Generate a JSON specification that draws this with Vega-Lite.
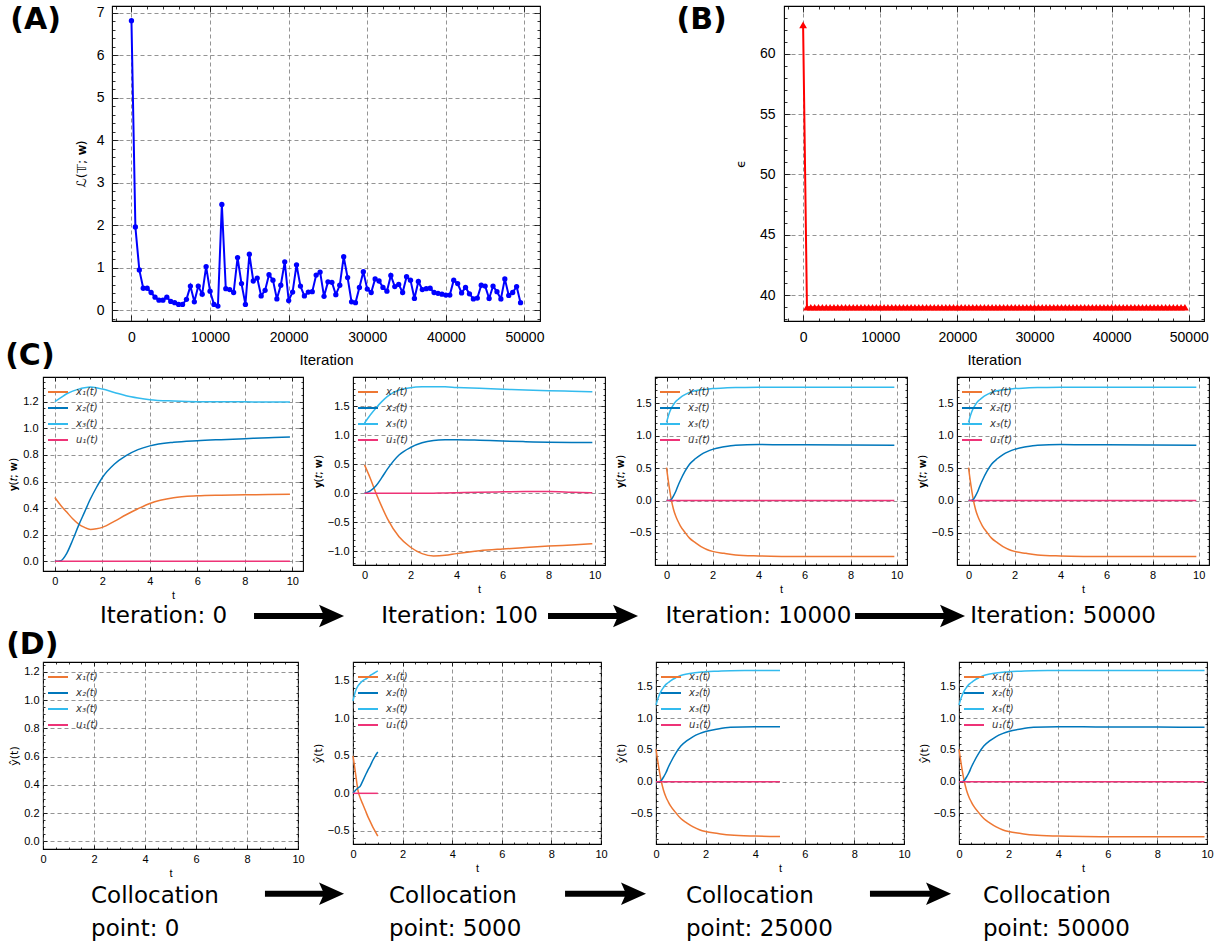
{
"$schema": "https://vega.github.io/schema/vega-lite/v6.json",
"padding": {"left": 5, "top": 4, "right": 0, "bottom": 0},
"spacing": -28,
"config": {
  "view": {"stroke": "#000", "strokeWidth": 1.1},
  "axis": {"domain": false, "tickColor": "#000", "tickWidth": 0.8, "labelFont": "Liberation Sans", "labelColor": "#000", "titleFont": "Liberation Sans", "titleColor": "#000", "titleFontWeight": "normal", "labelFlush": false, "labelOverlap": false, "gridColor": "#666", "gridDash": [4, 3], "gridWidth": 0.7},
  "legend": {"orient": "top-left", "offset": 3, "padding": 1, "rowPadding": -6, "symbolType": "stroke", "symbolSize": 400, "symbolStrokeWidth": 2, "labelFont": "DejaVu Sans", "labelFontStyle": "italic", "labelFontSize": 10, "labelColor": "#333", "labelOffset": 7},
  "title": {"font": "DejaVu Sans", "fontWeight": "bold", "fontSize": 30, "anchor": "start", "frame": "bounds", "color": "#000", "offset": 0, "baseline": "bottom"}
},
"resolve": {"legend": {"color": "independent"}},
"datasets": {
  "A": [
{"it":0,"loss":6.81},{"it":500,"loss":1.96},{"it":1000,"loss":0.95},{"it":1500,"loss":0.52},{"it":2000,"loss":0.52},{"it":2500,"loss":0.42},{"it":3000,"loss":0.31},{"it":3500,"loss":0.24},{"it":4000,"loss":0.24},{"it":4500,"loss":0.31},
{"it":5000,"loss":0.21},{"it":5500,"loss":0.18},{"it":6000,"loss":0.14},{"it":6500,"loss":0.14},{"it":7000,"loss":0.26},{"it":7500,"loss":0.57},{"it":8000,"loss":0.2},{"it":8500,"loss":0.57},{"it":9000,"loss":0.38},{"it":9500,"loss":1.03},
{"it":10000,"loss":0.45},{"it":10500,"loss":0.14},{"it":11000,"loss":0.1},{"it":11500,"loss":2.49},{"it":12000,"loss":0.51},{"it":12500,"loss":0.49},{"it":13000,"loss":0.42},{"it":13500,"loss":1.24},{"it":14000,"loss":0.63},{"it":14500,"loss":0.14},
{"it":15000,"loss":1.32},{"it":15500,"loss":0.69},{"it":16000,"loss":0.76},{"it":16500,"loss":0.34},{"it":17000,"loss":0.47},{"it":17500,"loss":0.84},{"it":18000,"loss":0.71},{"it":18500,"loss":0.27},{"it":19000,"loss":0.59},{"it":19500,"loss":1.14},
{"it":20000,"loss":0.23},{"it":20500,"loss":0.43},{"it":21000,"loss":1.07},{"it":21500,"loss":0.57},{"it":22000,"loss":0.34},{"it":22500,"loss":0.43},{"it":23000,"loss":0.44},{"it":23500,"loss":0.83},{"it":24000,"loss":0.9},{"it":24500,"loss":0.33},
{"it":25000,"loss":0.67},{"it":25500,"loss":0.66},{"it":26000,"loss":0.37},{"it":26500,"loss":0.59},{"it":27000,"loss":1.26},{"it":27500,"loss":0.77},{"it":28000,"loss":0.2},{"it":28500,"loss":0.18},{"it":29000,"loss":0.54},{"it":29500,"loss":0.91},
{"it":30000,"loss":0.5},{"it":30500,"loss":0.42},{"it":31000,"loss":0.74},{"it":31500,"loss":0.69},{"it":32000,"loss":0.54},{"it":32500,"loss":0.45},{"it":33000,"loss":0.82},{"it":33500,"loss":0.56},{"it":34000,"loss":0.61},{"it":34500,"loss":0.42},
{"it":35000,"loss":0.79},{"it":35500,"loss":0.71},{"it":36000,"loss":0.28},{"it":36500,"loss":0.68},{"it":37000,"loss":0.49},{"it":37500,"loss":0.51},{"it":38000,"loss":0.52},{"it":38500,"loss":0.42},{"it":39000,"loss":0.4},{"it":39500,"loss":0.38},
{"it":40000,"loss":0.36},{"it":40500,"loss":0.36},{"it":41000,"loss":0.71},{"it":41500,"loss":0.63},{"it":42000,"loss":0.41},{"it":42500,"loss":0.54},{"it":43000,"loss":0.39},{"it":43500,"loss":0.27},{"it":44000,"loss":0.29},{"it":44500,"loss":0.59},
{"it":45000,"loss":0.57},{"it":45500,"loss":0.28},{"it":46000,"loss":0.57},{"it":46500,"loss":0.44},{"it":47000,"loss":0.27},{"it":47500,"loss":0.74},{"it":48000,"loss":0.35},{"it":48500,"loss":0.42},{"it":49000,"loss":0.56},{"it":49500,"loss":0.18}
  ],
  "B": [
{"it":0,"eps":62.4},{"it":500,"eps":39},{"it":1000,"eps":39},{"it":1500,"eps":39},{"it":2000,"eps":39},{"it":2500,"eps":39},{"it":3000,"eps":39},{"it":3500,"eps":39},{"it":4000,"eps":39},{"it":4500,"eps":39},
{"it":5000,"eps":39},{"it":5500,"eps":39},{"it":6000,"eps":39},{"it":6500,"eps":39},{"it":7000,"eps":39},{"it":7500,"eps":39},{"it":8000,"eps":39},{"it":8500,"eps":39},{"it":9000,"eps":39},{"it":9500,"eps":39},
{"it":10000,"eps":39},{"it":10500,"eps":39},{"it":11000,"eps":39},{"it":11500,"eps":39},{"it":12000,"eps":39},{"it":12500,"eps":39},{"it":13000,"eps":39},{"it":13500,"eps":39},{"it":14000,"eps":39},{"it":14500,"eps":39},
{"it":15000,"eps":39},{"it":15500,"eps":39},{"it":16000,"eps":39},{"it":16500,"eps":39},{"it":17000,"eps":39},{"it":17500,"eps":39},{"it":18000,"eps":39},{"it":18500,"eps":39},{"it":19000,"eps":39},{"it":19500,"eps":39},
{"it":20000,"eps":39},{"it":20500,"eps":39},{"it":21000,"eps":39},{"it":21500,"eps":39},{"it":22000,"eps":39},{"it":22500,"eps":39},{"it":23000,"eps":39},{"it":23500,"eps":39},{"it":24000,"eps":39},{"it":24500,"eps":39},
{"it":25000,"eps":39},{"it":25500,"eps":39},{"it":26000,"eps":39},{"it":26500,"eps":39},{"it":27000,"eps":39},{"it":27500,"eps":39},{"it":28000,"eps":39},{"it":28500,"eps":39},{"it":29000,"eps":39},{"it":29500,"eps":39},
{"it":30000,"eps":39},{"it":30500,"eps":39},{"it":31000,"eps":39},{"it":31500,"eps":39},{"it":32000,"eps":39},{"it":32500,"eps":39},{"it":33000,"eps":39},{"it":33500,"eps":39},{"it":34000,"eps":39},{"it":34500,"eps":39},
{"it":35000,"eps":39},{"it":35500,"eps":39},{"it":36000,"eps":39},{"it":36500,"eps":39},{"it":37000,"eps":39},{"it":37500,"eps":39},{"it":38000,"eps":39},{"it":38500,"eps":39},{"it":39000,"eps":39},{"it":39500,"eps":39},
{"it":40000,"eps":39},{"it":40500,"eps":39},{"it":41000,"eps":39},{"it":41500,"eps":39},{"it":42000,"eps":39},{"it":42500,"eps":39},{"it":43000,"eps":39},{"it":43500,"eps":39},{"it":44000,"eps":39},{"it":44500,"eps":39},
{"it":45000,"eps":39},{"it":45500,"eps":39},{"it":46000,"eps":39},{"it":46500,"eps":39},{"it":47000,"eps":39},{"it":47500,"eps":39},{"it":48000,"eps":39},{"it":48500,"eps":39},{"it":49000,"eps":39},{"it":49500,"eps":39}
  ],
  "C1": [
{"t":0,"x1":0.48,"x2":0,"x3":1.2,"u1":0},
{"t":0.25,"x1":0.42,"x2":0.005,"x3":1.23,"u1":0},
{"t":0.5,"x1":0.37,"x2":0.06,"x3":1.26,"u1":0},
{"t":0.75,"x1":0.32,"x2":0.16,"x3":1.28,"u1":0},
{"t":1,"x1":0.28,"x2":0.27,"x3":1.295,"u1":0},
{"t":1.25,"x1":0.255,"x2":0.37,"x3":1.305,"u1":0},
{"t":1.5,"x1":0.24,"x2":0.47,"x3":1.31,"u1":0},
{"t":1.75,"x1":0.245,"x2":0.555,"x3":1.305,"u1":0},
{"t":2,"x1":0.255,"x2":0.63,"x3":1.295,"u1":0},
{"t":2.5,"x1":0.3,"x2":0.73,"x3":1.27,"u1":0},
{"t":3,"x1":0.35,"x2":0.795,"x3":1.245,"u1":0},
{"t":3.5,"x1":0.395,"x2":0.84,"x3":1.228,"u1":0},
{"t":4,"x1":0.435,"x2":0.868,"x3":1.215,"u1":0},
{"t":5,"x1":0.478,"x2":0.895,"x3":1.205,"u1":0},
{"t":6,"x1":0.492,"x2":0.907,"x3":1.2,"u1":0},
{"t":7,"x1":0.497,"x2":0.915,"x3":1.2,"u1":0},
{"t":8,"x1":0.5,"x2":0.922,"x3":1.199,"u1":0},
{"t":9,"x1":0.502,"x2":0.929,"x3":1.198,"u1":0},
{"t":9.9,"x1":0.505,"x2":0.935,"x3":1.198,"u1":0}
  ],
  "C2": [
{"t":0,"x1":0.49,"x2":0,"x3":1.21,"u1":0},
{"t":0.25,"x1":0.26,"x2":0.04,"x3":1.35,"u1":0},
{"t":0.5,"x1":0.0,"x2":0.13,"x3":1.47,"u1":0},
{"t":0.75,"x1":-0.23,"x2":0.27,"x3":1.58,"u1":0},
{"t":1,"x1":-0.44,"x2":0.42,"x3":1.67,"u1":0},
{"t":1.5,"x1":-0.75,"x2":0.66,"x3":1.78,"u1":0},
{"t":2,"x1":-0.93,"x2":0.79,"x3":1.82,"u1":0},
{"t":2.5,"x1":-1.04,"x2":0.87,"x3":1.835,"u1":0},
{"t":3,"x1":-1.08,"x2":0.91,"x3":1.838,"u1":0.002},
{"t":3.5,"x1":-1.07,"x2":0.923,"x3":1.835,"u1":0.005},
{"t":4,"x1":-1.04,"x2":0.925,"x3":1.825,"u1":0.01},
{"t":5,"x1":-0.99,"x2":0.915,"x3":1.81,"u1":0.02},
{"t":6,"x1":-0.96,"x2":0.9,"x3":1.795,"u1":0.025},
{"t":7,"x1":-0.935,"x2":0.89,"x3":1.78,"u1":0.03},
{"t":8,"x1":-0.91,"x2":0.88,"x3":1.77,"u1":0.03},
{"t":9,"x1":-0.89,"x2":0.876,"x3":1.76,"u1":0.02},
{"t":9.9,"x1":-0.87,"x2":0.875,"x3":1.75,"u1":0.01}
  ],
  "C3": [
{"t":0,"x1":0.51,"x2":0,"x3":1.205,"u1":0},
{"t":0.1,"x1":0.25,"x2":0,"x3":1.33,"u1":0},
{"t":0.2,"x1":0.03,"x2":0.015,"x3":1.42,"u1":0},
{"t":0.3,"x1":-0.13,"x2":0.07,"x3":1.48,"u1":0},
{"t":0.4,"x1":-0.24,"x2":0.14,"x3":1.53,"u1":0},
{"t":0.5,"x1":-0.32,"x2":0.23,"x3":1.56,"u1":0},
{"t":0.6,"x1":-0.39,"x2":0.31,"x3":1.59,"u1":0},
{"t":0.8,"x1":-0.49,"x2":0.45,"x3":1.635,"u1":0},
{"t":1,"x1":-0.58,"x2":0.56,"x3":1.67,"u1":0},
{"t":1.25,"x1":-0.65,"x2":0.645,"x3":1.695,"u1":0},
{"t":1.5,"x1":-0.71,"x2":0.71,"x3":1.71,"u1":0},
{"t":1.75,"x1":-0.755,"x2":0.755,"x3":1.72,"u1":0},
{"t":2,"x1":-0.785,"x2":0.79,"x3":1.73,"u1":0},
{"t":2.5,"x1":-0.815,"x2":0.83,"x3":1.738,"u1":0},
{"t":3,"x1":-0.84,"x2":0.855,"x3":1.745,"u1":0},
{"t":4,"x1":-0.855,"x2":0.865,"x3":1.748,"u1":0},
{"t":5,"x1":-0.862,"x2":0.862,"x3":1.75,"u1":0},
{"t":6,"x1":-0.865,"x2":0.86,"x3":1.75,"u1":0},
{"t":8,"x1":-0.865,"x2":0.858,"x3":1.75,"u1":0},
{"t":9.9,"x1":-0.865,"x2":0.855,"x3":1.75,"u1":0}
  ],
  "D1": [],
  "D2": [
{"t":0,"x1":0.5,"x2":0,"x3":1.23,"u1":0},
{"t":0.1,"x1":0.27,"x2":0.04,"x3":1.36,"u1":0},
{"t":0.2,"x1":0.04,"x2":0.07,"x3":1.43,"u1":0},
{"t":0.3,"x1":-0.07,"x2":0.1,"x3":1.47,"u1":0},
{"t":0.4,"x1":-0.15,"x2":0.17,"x3":1.5,"u1":0},
{"t":0.5,"x1":-0.23,"x2":0.24,"x3":1.52,"u1":0},
{"t":0.6,"x1":-0.31,"x2":0.31,"x3":1.54,"u1":0},
{"t":0.7,"x1":-0.38,"x2":0.37,"x3":1.57,"u1":0},
{"t":0.8,"x1":-0.45,"x2":0.44,"x3":1.59,"u1":0},
{"t":0.9,"x1":-0.51,"x2":0.5,"x3":1.61,"u1":0},
{"t":1,"x1":-0.57,"x2":0.55,"x3":1.63,"u1":0}
  ]
},
"vconcat": [
 {
  "bounds": "flush",
  "spacing": 0,
  "hconcat": [
   {"width": 69, "height": 315, "view": {"stroke": null}, "data": {"values": [{}]}, "mark": {"type": "point", "opacity": 0}},
   {
    "width": 428, "height": 315,
    "title": {"text": "(A)", "dx": -65, "dy": 33},
    "data": {"name": "A"},
    "layer": [
     {"mark": {"type": "line", "color": "#0000FF", "strokeWidth": 2, "point": {"filled": true, "size": 28, "color": "#0000FF"}},
      "encoding": {
       "x": {"field": "it", "type": "quantitative", "scale": {"domain": [-2475, 51975], "nice": false, "zero": false},
        "axis": {"orient": "bottom", "tickCount": 100, "tickMinStep": 0.001, "values": [-2000,0,2000,4000,6000,8000,10000,12000,14000,16000,18000,20000,22000,24000,26000,28000,30000,32000,34000,36000,38000,40000,42000,44000,46000,48000,50000], "labelExpr": "datum.value % 10000 == 0 ? format(datum.value, 'd') : ''", "tickSize": -6, "tickDash": {"condition": {"test": "datum.value % 10000 != 0", "value": [3, 10]}, "value": [10, 0]}, "grid": true, "gridOpacity": {"condition": {"test": "datum.value % 10000 != 0", "value": 0}, "value": 1}, "labelFontSize": 14, "labelPadding": 15, "title": "Iteration", "titleFontSize": 15, "titlePadding": 8}},
       "y": {"field": "loss", "type": "quantitative", "scale": {"domain": [-0.25, 7.155], "nice": false, "zero": false},
        "axis": {"orient": "left", "tickCount": 100, "tickMinStep": 0.001, "values": [-0.2,0,0.2,0.4,0.6,0.8,1,1.2,1.4,1.6,1.8,2,2.2,2.4,2.6,2.8,3,3.2,3.4,3.6,3.8,4,4.2,4.4,4.6,4.8,5,5.2,5.4,5.6,5.8,6,6.2,6.4,6.6,6.8,7], "labelExpr": "datum.value % 1 == 0 ? format(datum.value, 'd') : ''", "tickSize": -6, "tickDash": {"condition": {"test": "datum.value % 1 != 0", "value": [3, 10]}, "value": [10, 0]}, "grid": true, "gridOpacity": {"condition": {"test": "datum.value % 1 != 0", "value": 0}, "value": 1}, "labelFontSize": 14, "labelPadding": 14, "title": "ℒ(𝕋; 𝐰)", "titleFont": "DejaVu Sans", "titleFontSize": 13, "titlePadding": 8}}
      }},
     {"mark": {"type": "point", "opacity": 0},
      "encoding": {
       "x": {"field": "it", "type": "quantitative", "axis": {"orient": "top", "tickCount": 100, "tickMinStep": 0.001, "values": [-2000,0,2000,4000,6000,8000,10000,12000,14000,16000,18000,20000,22000,24000,26000,28000,30000,32000,34000,36000,38000,40000,42000,44000,46000,48000,50000], "labels": false, "grid": false, "title": null, "tickSize": -6, "tickDash": {"condition": {"test": "datum.value % 10000 != 0", "value": [3, 10]}, "value": [10, 0]}}},
       "y": {"field": "loss", "type": "quantitative", "axis": {"orient": "right", "tickCount": 100, "tickMinStep": 0.001, "values": [-0.2,0,0.2,0.4,0.6,0.8,1,1.2,1.4,1.6,1.8,2,2.2,2.4,2.6,2.8,3,3.2,3.4,3.6,3.8,4,4.2,4.4,4.6,4.8,5,5.2,5.4,5.6,5.8,6,6.2,6.4,6.6,6.8,7], "labels": false, "grid": false, "title": null, "tickSize": -6, "tickDash": {"condition": {"test": "datum.value % 1 != 0", "value": [3, 10]}, "value": [10, 0]}}}
      }}
    ],
    "resolve": {"axis": {"x": "independent", "y": "independent"}}
   },
   {"width": 244, "height": 315, "view": {"stroke": null}, "data": {"values": [{}]}, "mark": {"type": "point", "opacity": 0}},
   {
    "width": 420, "height": 315,
    "title": {"text": "(B)", "dx": -58, "dy": 33},
    "data": {"name": "B"},
    "layer": [
     {"mark": {"type": "line", "color": "#FF0000", "strokeWidth": 2, "point": {"shape": "triangle-up", "filled": true, "size": 60, "color": "#FF0000"}},
      "encoding": {
       "x": {"field": "it", "type": "quantitative", "scale": {"domain": [-2475, 51975], "nice": false, "zero": false},
        "axis": {"orient": "bottom", "tickCount": 100, "tickMinStep": 0.001, "values": [-2000,0,2000,4000,6000,8000,10000,12000,14000,16000,18000,20000,22000,24000,26000,28000,30000,32000,34000,36000,38000,40000,42000,44000,46000,48000,50000], "labelExpr": "datum.value % 10000 == 0 ? format(datum.value, 'd') : ''", "tickSize": -6, "tickDash": {"condition": {"test": "datum.value % 10000 != 0", "value": [3, 10]}, "value": [10, 0]}, "grid": true, "gridOpacity": {"condition": {"test": "datum.value % 10000 != 0", "value": 0}, "value": 1}, "labelFontSize": 14, "labelPadding": 15, "title": "Iteration", "titleFontSize": 15, "titlePadding": 8}},
       "y": {"field": "eps", "type": "quantitative", "scale": {"domain": [37.86, 63.96], "nice": false, "zero": false},
        "axis": {"orient": "left", "tickCount": 100, "tickMinStep": 0.001, "values": [38,39,40,41,42,43,44,45,46,47,48,49,50,51,52,53,54,55,56,57,58,59,60,61,62,63], "labelExpr": "datum.value % 5 == 0 ? format(datum.value, 'd') : ''", "tickSize": -6, "tickDash": {"condition": {"test": "datum.value % 5 != 0", "value": [3, 10]}, "value": [10, 0]}, "grid": true, "gridOpacity": {"condition": {"test": "datum.value % 5 != 0", "value": 0}, "value": 1}, "labelFontSize": 14, "labelPadding": 15, "title": "ϵ", "titleFont": "DejaVu Sans", "titleFontSize": 13, "titlePadding": 12}}
      }},
     {"mark": {"type": "point", "opacity": 0},
      "encoding": {
       "x": {"field": "it", "type": "quantitative", "axis": {"orient": "top", "tickCount": 100, "tickMinStep": 0.001, "values": [-2000,0,2000,4000,6000,8000,10000,12000,14000,16000,18000,20000,22000,24000,26000,28000,30000,32000,34000,36000,38000,40000,42000,44000,46000,48000,50000], "labels": false, "grid": false, "title": null, "tickSize": -6, "tickDash": {"condition": {"test": "datum.value % 10000 != 0", "value": [3, 10]}, "value": [10, 0]}}},
       "y": {"field": "eps", "type": "quantitative", "axis": {"orient": "right", "tickCount": 100, "tickMinStep": 0.001, "values": [38,39,40,41,42,43,44,45,46,47,48,49,50,51,52,53,54,55,56,57,58,59,60,61,62,63], "labels": false, "grid": false, "title": null, "tickSize": -6, "tickDash": {"condition": {"test": "datum.value % 5 != 0", "value": [3, 10]}, "value": [10, 0]}}}
      }}
    ],
    "resolve": {"axis": {"x": "independent", "y": "independent"}}
   }
  ]
 },
 {
  "title": {"text": "(C)", "dx": -2, "dy": 4},
  "bounds": "flush",
  "spacing": 50,
  "resolve": {"legend": {"color": "independent"}},
  "hconcat": [
   {
    "width": 260, "height": 194,
    "data": {"name": "C1"},
    "transform": [{"fold": ["x1", "x2", "x3", "u1"], "as": ["s", "v"]}],
    "layer": [
     {"mark": {"type": "line", "strokeWidth": 1.5, "interpolate": "monotone"},
      "encoding": {
       "x": {"field": "t", "type": "quantitative", "scale": {"domain": [-0.5, 10.45], "nice": false, "zero": false},
        "axis": {"orient": "bottom", "tickCount": 100, "tickMinStep": 0.001, "values": [0,0.5,1,1.5,2,2.5,3,3.5,4,4.5,5,5.5,6,6.5,7,7.5,8,8.5,9,9.5,10], "labelExpr": "datum.value % 2 == 0 ? format(datum.value, 'd') : ''", "tickSize": -4, "tickDash": {"condition": {"test": "datum.value % 2 != 0", "value": [2, 10]}, "value": [10, 0]}, "grid": true, "gridOpacity": {"condition": {"test": "datum.value % 2 != 0", "value": 0}, "value": 1}, "labelFontSize": 11, "labelPadding": 8, "title": "t", "titleFontSize": 11, "titlePadding": 3}},
       "y": {"field": "v", "type": "quantitative", "scale": {"domain": [-0.073, 1.386], "nice": false, "zero": false},
        "axis": {"orient": "left", "tickCount": 100, "tickMinStep": 0.001, "values": [0,0.05,0.1,0.15,0.2,0.25,0.3,0.35,0.4,0.45,0.5,0.55,0.6,0.65,0.7,0.75,0.8,0.85,0.9,0.95,1,1.05,1.1,1.15,1.2,1.25,1.3,1.35], "format": ".1f", "labelExpr": "abs(datum.value*5 - round(datum.value*5)) < 0.001 ? datum.label : ''", "tickSize": -4, "tickDash": {"condition": {"test": "abs(datum.value*5 - round(datum.value*5)) > 0.001", "value": [2, 10]}, "value": [10, 0]}, "grid": true, "gridOpacity": {"condition": {"test": "abs(datum.value*5 - round(datum.value*5)) > 0.001", "value": 0}, "value": 1}, "labelFontSize": 11, "labelPadding": 9, "title": "𝐲(𝑡; 𝐰)", "titleFont": "DejaVu Sans", "titleFontSize": 11, "titlePadding": 4}},
       "color": {"field": "s", "type": "nominal", "scale": {"domain": ["x1", "x2", "x3", "u1"], "range": ["#EE7733", "#0077BB", "#33BBEE", "#EE3377"]}, "legend": {"title": null, "labelExpr": "datum.label == 'x1' ? 'x₁(t)' : datum.label == 'x2' ? 'x₂(t)' : datum.label == 'x3' ? 'x₃(t)' : 'u₁(t)'"}}
      }},
     {"mark": {"type": "point", "opacity": 0},
      "encoding": {
       "x": {"field": "t", "type": "quantitative", "axis": {"orient": "top", "tickCount": 100, "tickMinStep": 0.001, "values": [0,0.5,1,1.5,2,2.5,3,3.5,4,4.5,5,5.5,6,6.5,7,7.5,8,8.5,9,9.5,10], "labels": false, "grid": false, "title": null, "tickSize": -4, "tickDash": {"condition": {"test": "datum.value % 2 != 0", "value": [2, 10]}, "value": [10, 0]}}},
       "y": {"field": "v", "type": "quantitative", "axis": {"orient": "right", "tickCount": 100, "tickMinStep": 0.001, "values": [0,0.05,0.1,0.15,0.2,0.25,0.3,0.35,0.4,0.45,0.5,0.55,0.6,0.65,0.7,0.75,0.8,0.85,0.9,0.95,1,1.05,1.1,1.15,1.2,1.25,1.3,1.35], "labels": false, "grid": false, "title": null, "tickSize": -4, "tickDash": {"condition": {"test": "abs(datum.value*5 - round(datum.value*5)) > 0.001", "value": [2, 10]}, "value": [10, 0]}}}
      }}
    ],
    "resolve": {"axis": {"x": "independent", "y": "independent"}}
   },
   {
    "width": 252, "height": 188,
    "data": {"name": "C2"},
    "transform": [{"fold": ["x1", "x2", "x3", "u1"], "as": ["s", "v"]}],
    "layer": [
     {"mark": {"type": "line", "strokeWidth": 1.5, "interpolate": "monotone"},
      "encoding": {
       "x": {"field": "t", "type": "quantitative", "scale": {"domain": [-0.5, 10.45], "nice": false, "zero": false},
        "axis": {"orient": "bottom", "tickCount": 100, "tickMinStep": 0.001, "values": [0,0.5,1,1.5,2,2.5,3,3.5,4,4.5,5,5.5,6,6.5,7,7.5,8,8.5,9,9.5,10], "labelExpr": "datum.value % 2 == 0 ? format(datum.value, 'd') : ''", "tickSize": -4, "tickDash": {"condition": {"test": "datum.value % 2 != 0", "value": [2, 10]}, "value": [10, 0]}, "grid": true, "gridOpacity": {"condition": {"test": "datum.value % 2 != 0", "value": 0}, "value": 1}, "labelFontSize": 11, "labelPadding": 8, "title": "t", "titleFontSize": 11, "titlePadding": 3}},
       "y": {"field": "v", "type": "quantitative", "scale": {"domain": [-1.236, 2.005], "nice": false, "zero": false},
        "axis": {"orient": "left", "tickCount": 100, "tickMinStep": 0.001, "values": [-1.2,-1.1,-1,-0.9,-0.8,-0.7,-0.6,-0.5,-0.4,-0.3,-0.2,-0.1,0,0.1,0.2,0.3,0.4,0.5,0.6,0.7,0.8,0.9,1,1.1,1.2,1.3,1.4,1.5,1.6,1.7,1.8,1.9], "format": ".1f", "labelExpr": "abs(datum.value*2 - round(datum.value*2)) < 0.001 ? datum.label : ''", "tickSize": -4, "tickDash": {"condition": {"test": "abs(datum.value*2 - round(datum.value*2)) > 0.001", "value": [2, 10]}, "value": [10, 0]}, "grid": true, "gridOpacity": {"condition": {"test": "abs(datum.value*2 - round(datum.value*2)) > 0.001", "value": 0}, "value": 1}, "labelFontSize": 11, "labelPadding": 8, "title": "𝐲(𝑡; 𝐰)", "titleFont": "DejaVu Sans", "titleFontSize": 11, "titlePadding": 4}},
       "color": {"field": "s", "type": "nominal", "scale": {"domain": ["x1", "x2", "x3", "u1"], "range": ["#EE7733", "#0077BB", "#33BBEE", "#EE3377"]}, "legend": {"title": null, "labelExpr": "datum.label == 'x1' ? 'x₁(t)' : datum.label == 'x2' ? 'x₂(t)' : datum.label == 'x3' ? 'x₃(t)' : 'u₁(t)'"}}
      }},
     {"mark": {"type": "point", "opacity": 0},
      "encoding": {
       "x": {"field": "t", "type": "quantitative", "axis": {"orient": "top", "tickCount": 100, "tickMinStep": 0.001, "values": [0,0.5,1,1.5,2,2.5,3,3.5,4,4.5,5,5.5,6,6.5,7,7.5,8,8.5,9,9.5,10], "labels": false, "grid": false, "title": null, "tickSize": -4, "tickDash": {"condition": {"test": "datum.value % 2 != 0", "value": [2, 10]}, "value": [10, 0]}}},
       "y": {"field": "v", "type": "quantitative", "axis": {"orient": "right", "tickCount": 100, "tickMinStep": 0.001, "values": [-1.2,-1.1,-1,-0.9,-0.8,-0.7,-0.6,-0.5,-0.4,-0.3,-0.2,-0.1,0,0.1,0.2,0.3,0.4,0.5,0.6,0.7,0.8,0.9,1,1.1,1.2,1.3,1.4,1.5,1.6,1.7,1.8,1.9], "labels": false, "grid": false, "title": null, "tickSize": -4, "tickDash": {"condition": {"test": "abs(datum.value*2 - round(datum.value*2)) > 0.001", "value": [2, 10]}, "value": [10, 0]}}}
      }}
    ],
    "resolve": {"axis": {"x": "independent", "y": "independent"}}
   },
   {
    "width": 252, "height": 188,
    "data": {"name": "C3"},
    "transform": [{"fold": ["x1", "x2", "x3", "u1"], "as": ["s", "v"]}],
    "layer": [
     {"mark": {"type": "line", "strokeWidth": 1.5, "interpolate": "monotone"},
      "encoding": {
       "x": {"field": "t", "type": "quantitative", "scale": {"domain": [-0.5, 10.45], "nice": false, "zero": false},
        "axis": {"orient": "bottom", "tickCount": 100, "tickMinStep": 0.001, "values": [0,0.5,1,1.5,2,2.5,3,3.5,4,4.5,5,5.5,6,6.5,7,7.5,8,8.5,9,9.5,10], "labelExpr": "datum.value % 2 == 0 ? format(datum.value, 'd') : ''", "tickSize": -4, "tickDash": {"condition": {"test": "datum.value % 2 != 0", "value": [2, 10]}, "value": [10, 0]}, "grid": true, "gridOpacity": {"condition": {"test": "datum.value % 2 != 0", "value": 0}, "value": 1}, "labelFontSize": 11, "labelPadding": 8, "title": "t", "titleFontSize": 11, "titlePadding": 3}},
       "y": {"field": "v", "type": "quantitative", "scale": {"domain": [-0.995, 1.908], "nice": false, "zero": false},
        "axis": {"orient": "left", "tickCount": 100, "tickMinStep": 0.001, "values": [-0.9,-0.8,-0.7,-0.6,-0.5,-0.4,-0.3,-0.2,-0.1,0,0.1,0.2,0.3,0.4,0.5,0.6,0.7,0.8,0.9,1,1.1,1.2,1.3,1.4,1.5,1.6,1.7,1.8,1.9], "format": ".1f", "labelExpr": "abs(datum.value*2 - round(datum.value*2)) < 0.001 ? datum.label : ''", "tickSize": -4, "tickDash": {"condition": {"test": "abs(datum.value*2 - round(datum.value*2)) > 0.001", "value": [2, 10]}, "value": [10, 0]}, "grid": true, "gridOpacity": {"condition": {"test": "abs(datum.value*2 - round(datum.value*2)) > 0.001", "value": 0}, "value": 1}, "labelFontSize": 11, "labelPadding": 8, "title": "𝐲(𝑡; 𝐰)", "titleFont": "DejaVu Sans", "titleFontSize": 11, "titlePadding": 4}},
       "color": {"field": "s", "type": "nominal", "scale": {"domain": ["x1", "x2", "x3", "u1"], "range": ["#EE7733", "#0077BB", "#33BBEE", "#EE3377"]}, "legend": {"title": null, "labelExpr": "datum.label == 'x1' ? 'x₁(t)' : datum.label == 'x2' ? 'x₂(t)' : datum.label == 'x3' ? 'x₃(t)' : 'u₁(t)'"}}
      }},
     {"mark": {"type": "point", "opacity": 0},
      "encoding": {
       "x": {"field": "t", "type": "quantitative", "axis": {"orient": "top", "tickCount": 100, "tickMinStep": 0.001, "values": [0,0.5,1,1.5,2,2.5,3,3.5,4,4.5,5,5.5,6,6.5,7,7.5,8,8.5,9,9.5,10], "labels": false, "grid": false, "title": null, "tickSize": -4, "tickDash": {"condition": {"test": "datum.value % 2 != 0", "value": [2, 10]}, "value": [10, 0]}}},
       "y": {"field": "v", "type": "quantitative", "axis": {"orient": "right", "tickCount": 100, "tickMinStep": 0.001, "values": [-0.9,-0.8,-0.7,-0.6,-0.5,-0.4,-0.3,-0.2,-0.1,0,0.1,0.2,0.3,0.4,0.5,0.6,0.7,0.8,0.9,1,1.1,1.2,1.3,1.4,1.5,1.6,1.7,1.8,1.9], "labels": false, "grid": false, "title": null, "tickSize": -4, "tickDash": {"condition": {"test": "abs(datum.value*2 - round(datum.value*2)) > 0.001", "value": [2, 10]}, "value": [10, 0]}}}
      }}
    ],
    "resolve": {"axis": {"x": "independent", "y": "independent"}}
   },
   {
    "width": 252, "height": 188,
    "data": {"name": "C3"},
    "transform": [{"fold": ["x1", "x2", "x3", "u1"], "as": ["s", "v"]}],
    "layer": [
     {"mark": {"type": "line", "strokeWidth": 1.5, "interpolate": "monotone"},
      "encoding": {
       "x": {"field": "t", "type": "quantitative", "scale": {"domain": [-0.5, 10.45], "nice": false, "zero": false},
        "axis": {"orient": "bottom", "tickCount": 100, "tickMinStep": 0.001, "values": [0,0.5,1,1.5,2,2.5,3,3.5,4,4.5,5,5.5,6,6.5,7,7.5,8,8.5,9,9.5,10], "labelExpr": "datum.value % 2 == 0 ? format(datum.value, 'd') : ''", "tickSize": -4, "tickDash": {"condition": {"test": "datum.value % 2 != 0", "value": [2, 10]}, "value": [10, 0]}, "grid": true, "gridOpacity": {"condition": {"test": "datum.value % 2 != 0", "value": 0}, "value": 1}, "labelFontSize": 11, "labelPadding": 8, "title": "t", "titleFontSize": 11, "titlePadding": 3}},
       "y": {"field": "v", "type": "quantitative", "scale": {"domain": [-0.995, 1.908], "nice": false, "zero": false},
        "axis": {"orient": "left", "tickCount": 100, "tickMinStep": 0.001, "values": [-0.9,-0.8,-0.7,-0.6,-0.5,-0.4,-0.3,-0.2,-0.1,0,0.1,0.2,0.3,0.4,0.5,0.6,0.7,0.8,0.9,1,1.1,1.2,1.3,1.4,1.5,1.6,1.7,1.8,1.9], "format": ".1f", "labelExpr": "abs(datum.value*2 - round(datum.value*2)) < 0.001 ? datum.label : ''", "tickSize": -4, "tickDash": {"condition": {"test": "abs(datum.value*2 - round(datum.value*2)) > 0.001", "value": [2, 10]}, "value": [10, 0]}, "grid": true, "gridOpacity": {"condition": {"test": "abs(datum.value*2 - round(datum.value*2)) > 0.001", "value": 0}, "value": 1}, "labelFontSize": 11, "labelPadding": 8, "title": "𝐲(𝑡; 𝐰)", "titleFont": "DejaVu Sans", "titleFontSize": 11, "titlePadding": 4}},
       "color": {"field": "s", "type": "nominal", "scale": {"domain": ["x1", "x2", "x3", "u1"], "range": ["#EE7733", "#0077BB", "#33BBEE", "#EE3377"]}, "legend": {"title": null, "labelExpr": "datum.label == 'x1' ? 'x₁(t)' : datum.label == 'x2' ? 'x₂(t)' : datum.label == 'x3' ? 'x₃(t)' : 'u₁(t)'"}}
      }},
     {"mark": {"type": "point", "opacity": 0},
      "encoding": {
       "x": {"field": "t", "type": "quantitative", "axis": {"orient": "top", "tickCount": 100, "tickMinStep": 0.001, "values": [0,0.5,1,1.5,2,2.5,3,3.5,4,4.5,5,5.5,6,6.5,7,7.5,8,8.5,9,9.5,10], "labels": false, "grid": false, "title": null, "tickSize": -4, "tickDash": {"condition": {"test": "datum.value % 2 != 0", "value": [2, 10]}, "value": [10, 0]}}},
       "y": {"field": "v", "type": "quantitative", "axis": {"orient": "right", "tickCount": 100, "tickMinStep": 0.001, "values": [-0.9,-0.8,-0.7,-0.6,-0.5,-0.4,-0.3,-0.2,-0.1,0,0.1,0.2,0.3,0.4,0.5,0.6,0.7,0.8,0.9,1,1.1,1.2,1.3,1.4,1.5,1.6,1.7,1.8,1.9], "labels": false, "grid": false, "title": null, "tickSize": -4, "tickDash": {"condition": {"test": "abs(datum.value*2 - round(datum.value*2)) > 0.001", "value": [2, 10]}, "value": [10, 0]}}}
      }}
    ],
    "resolve": {"axis": {"x": "independent", "y": "independent"}}
   }
  ]
 },
 {
  "width": 1175, "height": 57,
  "view": {"stroke": null},
  "layer": [
   {"data": {"values": [{"label": "Iteration: 0", "pos": 10.26}, {"label": "Iteration: 100", "pos": 35.45}, {"label": "Iteration: 10000", "pos": 60.89}, {"label": "Iteration: 50000", "pos": 86.81}]},
    "mark": {"type": "text", "font": "DejaVu Sans", "fontSize": 23, "align": "center", "baseline": "middle", "color": "#000"},
    "encoding": {
     "x": {"field": "pos", "type": "quantitative", "scale": {"domain": [0, 100], "nice": false, "zero": false}, "axis": null},
     "y": {"datum": 0.737, "type": "quantitative", "scale": {"domain": [0, 1], "nice": false, "zero": false}, "axis": null},
     "text": {"field": "label", "type": "nominal"}
    }},
   {"data": {"values": [{"a0": 17.96, "a1": 25.62}, {"a0": 42.98, "a1": 50.64}, {"a0": 69.11, "a1": 78.47}]},
    "mark": {"type": "rule", "strokeWidth": 6, "color": "#000", "strokeCap": "butt", "x2Offset": -12},
    "encoding": {
     "x": {"field": "a0", "type": "quantitative"},
     "x2": {"field": "a1"},
     "y": {"datum": 0.737, "type": "quantitative"}
    }},
   {"data": {"values": [{"a0": 17.96, "a1": 25.62}, {"a0": 42.98, "a1": 50.64}, {"a0": 69.11, "a1": 78.47}]},
    "mark": {"type": "point", "shape": "M0,0L-2,-0.9L-1.6,0L-2,0.9Z", "size": 625, "filled": true, "color": "#000", "opacity": 1},
    "encoding": {
     "x": {"field": "a1", "type": "quantitative"},
     "y": {"datum": 0.737, "type": "quantitative"}
    }}
  ]
 },
 {
  "title": {"text": "(D)", "dx": -2, "dy": 6},
  "bounds": "flush",
  "spacing": 55,
  "resolve": {"legend": {"color": "independent"}},
  "hconcat": [
   {
    "width": 255, "height": 187,
    "data": {"name": "D1"},
    "transform": [{"fold": ["x1", "x2", "x3", "u1"], "as": ["s", "v"]}],
    "layer": [
     {"mark": {"type": "line", "strokeWidth": 1.5, "interpolate": "monotone"},
      "encoding": {
       "x": {"field": "t", "type": "quantitative", "scale": {"domain": [0, 10], "nice": false, "zero": false},
        "axis": {"orient": "bottom", "tickCount": 100, "tickMinStep": 0.001, "values": [0,0.5,1,1.5,2,2.5,3,3.5,4,4.5,5,5.5,6,6.5,7,7.5,8,8.5,9,9.5,10], "labelExpr": "datum.value % 2 == 0 ? format(datum.value, 'd') : ''", "tickSize": -4, "tickDash": {"condition": {"test": "datum.value % 2 != 0", "value": [2, 10]}, "value": [10, 0]}, "grid": true, "gridOpacity": {"condition": {"test": "datum.value % 2 != 0", "value": 0}, "value": 1}, "labelFontSize": 11, "labelPadding": 8, "title": "t", "titleFontSize": 11, "titlePadding": 3}},
       "y": {"field": "v", "type": "quantitative", "scale": {"domain": [-0.054, 1.269], "nice": false, "zero": false},
        "axis": {"orient": "left", "tickCount": 100, "tickMinStep": 0.001, "values": [0,0.05,0.1,0.15,0.2,0.25,0.3,0.35,0.4,0.45,0.5,0.55,0.6,0.65,0.7,0.75,0.8,0.85,0.9,0.95,1,1.05,1.1,1.15,1.2,1.25], "format": ".1f", "labelExpr": "abs(datum.value*5 - round(datum.value*5)) < 0.001 ? datum.label : ''", "tickSize": -4, "tickDash": {"condition": {"test": "abs(datum.value*5 - round(datum.value*5)) > 0.001", "value": [2, 10]}, "value": [10, 0]}, "grid": true, "gridOpacity": {"condition": {"test": "abs(datum.value*5 - round(datum.value*5)) > 0.001", "value": 0}, "value": 1}, "labelFontSize": 11, "labelPadding": 8, "title": "ŷ(t)", "titleFont": "DejaVu Sans", "titleFontSize": 11, "titlePadding": 4}},
       "color": {"field": "s", "type": "nominal", "scale": {"domain": ["x1", "x2", "x3", "u1"], "range": ["#EE7733", "#0077BB", "#33BBEE", "#EE3377"]}, "legend": {"title": null, "labelExpr": "datum.label == 'x1' ? 'x₁(t)' : datum.label == 'x2' ? 'x₂(t)' : datum.label == 'x3' ? 'x₃(t)' : 'u₁(t)'"}}
      }},
     {"mark": {"type": "point", "opacity": 0},
      "encoding": {
       "x": {"field": "t", "type": "quantitative", "axis": {"orient": "top", "tickCount": 100, "tickMinStep": 0.001, "values": [0,0.5,1,1.5,2,2.5,3,3.5,4,4.5,5,5.5,6,6.5,7,7.5,8,8.5,9,9.5,10], "labels": false, "grid": false, "title": null, "tickSize": -4, "tickDash": {"condition": {"test": "datum.value % 2 != 0", "value": [2, 10]}, "value": [10, 0]}}},
       "y": {"field": "v", "type": "quantitative", "axis": {"orient": "right", "tickCount": 100, "tickMinStep": 0.001, "values": [0,0.05,0.1,0.15,0.2,0.25,0.3,0.35,0.4,0.45,0.5,0.55,0.6,0.65,0.7,0.75,0.8,0.85,0.9,0.95,1,1.05,1.1,1.15,1.2,1.25], "labels": false, "grid": false, "title": null, "tickSize": -4, "tickDash": {"condition": {"test": "abs(datum.value*5 - round(datum.value*5)) > 0.001", "value": [2, 10]}, "value": [10, 0]}}}
      }}
    ],
    "resolve": {"axis": {"x": "independent", "y": "independent"}}
   },
   {
    "width": 248, "height": 182,
    "data": {"name": "D2"},
    "transform": [{"fold": ["x1", "x2", "x3", "u1"], "as": ["s", "v"]}],
    "layer": [
     {"mark": {"type": "line", "strokeWidth": 1.5, "interpolate": "monotone"},
      "encoding": {
       "x": {"field": "t", "type": "quantitative", "scale": {"domain": [0, 10], "nice": false, "zero": false},
        "axis": {"orient": "bottom", "tickCount": 100, "tickMinStep": 0.001, "values": [0,0.5,1,1.5,2,2.5,3,3.5,4,4.5,5,5.5,6,6.5,7,7.5,8,8.5,9,9.5,10], "labelExpr": "datum.value % 2 == 0 ? format(datum.value, 'd') : ''", "tickSize": -4, "tickDash": {"condition": {"test": "datum.value % 2 != 0", "value": [2, 10]}, "value": [10, 0]}, "grid": true, "gridOpacity": {"condition": {"test": "datum.value % 2 != 0", "value": 0}, "value": 1}, "labelFontSize": 11, "labelPadding": 8, "title": "t", "titleFontSize": 11, "titlePadding": 3}},
       "y": {"field": "v", "type": "quantitative", "scale": {"domain": [-0.675, 1.749], "nice": false, "zero": false},
        "axis": {"orient": "left", "tickCount": 100, "tickMinStep": 0.001, "values": [-0.6,-0.5,-0.4,-0.3,-0.2,-0.1,0,0.1,0.2,0.3,0.4,0.5,0.6,0.7,0.8,0.9,1,1.1,1.2,1.3,1.4,1.5,1.6,1.7], "format": ".1f", "labelExpr": "abs(datum.value*2 - round(datum.value*2)) < 0.001 ? datum.label : ''", "tickSize": -4, "tickDash": {"condition": {"test": "abs(datum.value*2 - round(datum.value*2)) > 0.001", "value": [2, 10]}, "value": [10, 0]}, "grid": true, "gridOpacity": {"condition": {"test": "abs(datum.value*2 - round(datum.value*2)) > 0.001", "value": 0}, "value": 1}, "labelFontSize": 11, "labelPadding": 8, "title": "ŷ(t)", "titleFont": "DejaVu Sans", "titleFontSize": 11, "titlePadding": 4}},
       "color": {"field": "s", "type": "nominal", "scale": {"domain": ["x1", "x2", "x3", "u1"], "range": ["#EE7733", "#0077BB", "#33BBEE", "#EE3377"]}, "legend": {"title": null, "labelExpr": "datum.label == 'x1' ? 'x₁(t)' : datum.label == 'x2' ? 'x₂(t)' : datum.label == 'x3' ? 'x₃(t)' : 'u₁(t)'"}}
      }},
     {"mark": {"type": "point", "opacity": 0},
      "encoding": {
       "x": {"field": "t", "type": "quantitative", "axis": {"orient": "top", "tickCount": 100, "tickMinStep": 0.001, "values": [0,0.5,1,1.5,2,2.5,3,3.5,4,4.5,5,5.5,6,6.5,7,7.5,8,8.5,9,9.5,10], "labels": false, "grid": false, "title": null, "tickSize": -4, "tickDash": {"condition": {"test": "datum.value % 2 != 0", "value": [2, 10]}, "value": [10, 0]}}},
       "y": {"field": "v", "type": "quantitative", "axis": {"orient": "right", "tickCount": 100, "tickMinStep": 0.001, "values": [-0.6,-0.5,-0.4,-0.3,-0.2,-0.1,0,0.1,0.2,0.3,0.4,0.5,0.6,0.7,0.8,0.9,1,1.1,1.2,1.3,1.4,1.5,1.6,1.7], "labels": false, "grid": false, "title": null, "tickSize": -4, "tickDash": {"condition": {"test": "abs(datum.value*2 - round(datum.value*2)) > 0.001", "value": [2, 10]}, "value": [10, 0]}}}
      }}
    ],
    "resolve": {"axis": {"x": "independent", "y": "independent"}}
   },
   {
    "width": 248, "height": 182,
    "data": {"name": "C3"},
    "transform": [{"filter": "datum.t <= 5"}, {"fold": ["x1", "x2", "x3", "u1"], "as": ["s", "v"]}],
    "layer": [
     {"mark": {"type": "line", "strokeWidth": 1.5, "interpolate": "monotone"},
      "encoding": {
       "x": {"field": "t", "type": "quantitative", "scale": {"domain": [0, 10], "nice": false, "zero": false},
        "axis": {"orient": "bottom", "tickCount": 100, "tickMinStep": 0.001, "values": [0,0.5,1,1.5,2,2.5,3,3.5,4,4.5,5,5.5,6,6.5,7,7.5,8,8.5,9,9.5,10], "labelExpr": "datum.value % 2 == 0 ? format(datum.value, 'd') : ''", "tickSize": -4, "tickDash": {"condition": {"test": "datum.value % 2 != 0", "value": [2, 10]}, "value": [10, 0]}, "grid": true, "gridOpacity": {"condition": {"test": "datum.value % 2 != 0", "value": 0}, "value": 1}, "labelFontSize": 11, "labelPadding": 8, "title": "t", "titleFontSize": 11, "titlePadding": 3}},
       "y": {"field": "v", "type": "quantitative", "scale": {"domain": [-0.98, 1.882], "nice": false, "zero": false},
        "axis": {"orient": "left", "tickCount": 100, "tickMinStep": 0.001, "values": [-0.9,-0.8,-0.7,-0.6,-0.5,-0.4,-0.3,-0.2,-0.1,0,0.1,0.2,0.3,0.4,0.5,0.6,0.7,0.8,0.9,1,1.1,1.2,1.3,1.4,1.5,1.6,1.7,1.8], "format": ".1f", "labelExpr": "abs(datum.value*2 - round(datum.value*2)) < 0.001 ? datum.label : ''", "tickSize": -4, "tickDash": {"condition": {"test": "abs(datum.value*2 - round(datum.value*2)) > 0.001", "value": [2, 10]}, "value": [10, 0]}, "grid": true, "gridOpacity": {"condition": {"test": "abs(datum.value*2 - round(datum.value*2)) > 0.001", "value": 0}, "value": 1}, "labelFontSize": 11, "labelPadding": 8, "title": "ŷ(t)", "titleFont": "DejaVu Sans", "titleFontSize": 11, "titlePadding": 4}},
       "color": {"field": "s", "type": "nominal", "scale": {"domain": ["x1", "x2", "x3", "u1"], "range": ["#EE7733", "#0077BB", "#33BBEE", "#EE3377"]}, "legend": {"title": null, "labelExpr": "datum.label == 'x1' ? 'x₁(t)' : datum.label == 'x2' ? 'x₂(t)' : datum.label == 'x3' ? 'x₃(t)' : 'u₁(t)'"}}
      }},
     {"mark": {"type": "point", "opacity": 0},
      "encoding": {
       "x": {"field": "t", "type": "quantitative", "axis": {"orient": "top", "tickCount": 100, "tickMinStep": 0.001, "values": [0,0.5,1,1.5,2,2.5,3,3.5,4,4.5,5,5.5,6,6.5,7,7.5,8,8.5,9,9.5,10], "labels": false, "grid": false, "title": null, "tickSize": -4, "tickDash": {"condition": {"test": "datum.value % 2 != 0", "value": [2, 10]}, "value": [10, 0]}}},
       "y": {"field": "v", "type": "quantitative", "axis": {"orient": "right", "tickCount": 100, "tickMinStep": 0.001, "values": [-0.9,-0.8,-0.7,-0.6,-0.5,-0.4,-0.3,-0.2,-0.1,0,0.1,0.2,0.3,0.4,0.5,0.6,0.7,0.8,0.9,1,1.1,1.2,1.3,1.4,1.5,1.6,1.7,1.8], "labels": false, "grid": false, "title": null, "tickSize": -4, "tickDash": {"condition": {"test": "abs(datum.value*2 - round(datum.value*2)) > 0.001", "value": [2, 10]}, "value": [10, 0]}}}
      }}
    ],
    "resolve": {"axis": {"x": "independent", "y": "independent"}}
   },
   {
    "width": 248, "height": 182,
    "data": {"name": "C3"},
    "transform": [{"fold": ["x1", "x2", "x3", "u1"], "as": ["s", "v"]}],
    "layer": [
     {"mark": {"type": "line", "strokeWidth": 1.5, "interpolate": "monotone"},
      "encoding": {
       "x": {"field": "t", "type": "quantitative", "scale": {"domain": [0, 10], "nice": false, "zero": false},
        "axis": {"orient": "bottom", "tickCount": 100, "tickMinStep": 0.001, "values": [0,0.5,1,1.5,2,2.5,3,3.5,4,4.5,5,5.5,6,6.5,7,7.5,8,8.5,9,9.5,10], "labelExpr": "datum.value % 2 == 0 ? format(datum.value, 'd') : ''", "tickSize": -4, "tickDash": {"condition": {"test": "datum.value % 2 != 0", "value": [2, 10]}, "value": [10, 0]}, "grid": true, "gridOpacity": {"condition": {"test": "datum.value % 2 != 0", "value": 0}, "value": 1}, "labelFontSize": 11, "labelPadding": 8, "title": "t", "titleFontSize": 11, "titlePadding": 3}},
       "y": {"field": "v", "type": "quantitative", "scale": {"domain": [-0.98, 1.882], "nice": false, "zero": false},
        "axis": {"orient": "left", "tickCount": 100, "tickMinStep": 0.001, "values": [-0.9,-0.8,-0.7,-0.6,-0.5,-0.4,-0.3,-0.2,-0.1,0,0.1,0.2,0.3,0.4,0.5,0.6,0.7,0.8,0.9,1,1.1,1.2,1.3,1.4,1.5,1.6,1.7,1.8], "format": ".1f", "labelExpr": "abs(datum.value*2 - round(datum.value*2)) < 0.001 ? datum.label : ''", "tickSize": -4, "tickDash": {"condition": {"test": "abs(datum.value*2 - round(datum.value*2)) > 0.001", "value": [2, 10]}, "value": [10, 0]}, "grid": true, "gridOpacity": {"condition": {"test": "abs(datum.value*2 - round(datum.value*2)) > 0.001", "value": 0}, "value": 1}, "labelFontSize": 11, "labelPadding": 8, "title": "ŷ(t)", "titleFont": "DejaVu Sans", "titleFontSize": 11, "titlePadding": 4}},
       "color": {"field": "s", "type": "nominal", "scale": {"domain": ["x1", "x2", "x3", "u1"], "range": ["#EE7733", "#0077BB", "#33BBEE", "#EE3377"]}, "legend": {"title": null, "labelExpr": "datum.label == 'x1' ? 'x₁(t)' : datum.label == 'x2' ? 'x₂(t)' : datum.label == 'x3' ? 'x₃(t)' : 'u₁(t)'"}}
      }},
     {"mark": {"type": "point", "opacity": 0},
      "encoding": {
       "x": {"field": "t", "type": "quantitative", "axis": {"orient": "top", "tickCount": 100, "tickMinStep": 0.001, "values": [0,0.5,1,1.5,2,2.5,3,3.5,4,4.5,5,5.5,6,6.5,7,7.5,8,8.5,9,9.5,10], "labels": false, "grid": false, "title": null, "tickSize": -4, "tickDash": {"condition": {"test": "datum.value % 2 != 0", "value": [2, 10]}, "value": [10, 0]}}},
       "y": {"field": "v", "type": "quantitative", "axis": {"orient": "right", "tickCount": 100, "tickMinStep": 0.001, "values": [-0.9,-0.8,-0.7,-0.6,-0.5,-0.4,-0.3,-0.2,-0.1,0,0.1,0.2,0.3,0.4,0.5,0.6,0.7,0.8,0.9,1,1.1,1.2,1.3,1.4,1.5,1.6,1.7,1.8], "labels": false, "grid": false, "title": null, "tickSize": -4, "tickDash": {"condition": {"test": "abs(datum.value*2 - round(datum.value*2)) > 0.001", "value": [2, 10]}, "value": [10, 0]}}}
      }}
    ],
    "resolve": {"axis": {"x": "independent", "y": "independent"}}
   }
  ]
 },
 {
  "width": 1175, "height": 74,
  "view": {"stroke": null},
  "layer": [
   {"data": {"values": [{"label": "Collocation\npoint: 0", "pos": 4.09}, {"label": "Collocation\npoint: 5000", "pos": 29.45}, {"label": "Collocation\npoint: 25000", "pos": 54.72}, {"label": "Collocation\npoint: 50000", "pos": 80.0}]},
    "mark": {"type": "text", "font": "DejaVu Sans", "fontSize": 23, "align": "left", "baseline": "middle", "lineBreak": "\n", "lineHeight": 33, "color": "#000"},
    "encoding": {
     "x": {"field": "pos", "type": "quantitative", "scale": {"domain": [0, 100], "nice": false, "zero": false}, "axis": null},
     "y": {"datum": 0.77, "type": "quantitative", "scale": {"domain": [0, 1], "nice": false, "zero": false}, "axis": null},
     "text": {"field": "label", "type": "nominal"}
    }},
   {"data": {"values": [{"a0": 18.89, "a1": 25.62}, {"a0": 44.43, "a1": 51.32}, {"a0": 70.38, "a1": 77.28}]},
    "mark": {"type": "rule", "strokeWidth": 6, "color": "#000", "strokeCap": "butt", "x2Offset": -12},
    "encoding": {
     "x": {"field": "a0", "type": "quantitative"},
     "x2": {"field": "a1"},
     "y": {"datum": 0.8, "type": "quantitative"}
    }},
   {"data": {"values": [{"a0": 18.89, "a1": 25.62}, {"a0": 44.43, "a1": 51.32}, {"a0": 70.38, "a1": 77.28}]},
    "mark": {"type": "point", "shape": "M0,0L-2,-0.9L-1.6,0L-2,0.9Z", "size": 625, "filled": true, "color": "#000", "opacity": 1},
    "encoding": {
     "x": {"field": "a1", "type": "quantitative"},
     "y": {"datum": 0.8, "type": "quantitative"}
    }}
  ]
 }
]
}
